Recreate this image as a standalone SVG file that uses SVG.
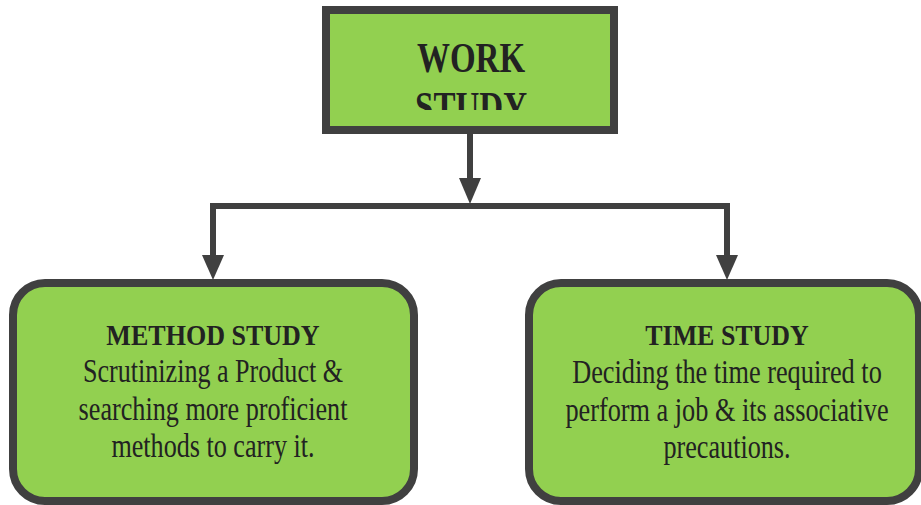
<svg xmlns="http://www.w3.org/2000/svg" width="921" height="505" viewBox="0 0 921 505">
  <style>
    .box { fill: #92d050; stroke: #404040; stroke-width: 8; }
    .wire { fill: none; stroke: #404040; stroke-width: 6; }
    .head { fill: #404040; }
    .title { font-family: "Liberation Serif", "Times New Roman", serif; font-weight: bold; fill: #222; text-anchor: middle; }
    .body { font-family: "Liberation Serif", "Times New Roman", serif; fill: #222; text-anchor: middle; font-size: 33px; }
  </style>
  <defs>
    <clipPath id="topClip">
      <rect x="330" y="14" width="280" height="96"/>
    </clipPath>
  </defs>
  <rect width="921" height="505" fill="#ffffff"/>

  <g id="connectors">
    <line class="wire" x1="470" y1="133" x2="470" y2="178"/>
    <path class="head" d="M459 178 L481 178 L470 204 Z"/>
    <path class="wire" d="M213 256 L213 206 L727 206 L727 256"/>
    <path class="head" d="M202 255 L224 255 L213 280 Z"/>
    <path class="head" d="M716 255 L738 255 L727 280 Z"/>
  </g>

  <g id="work-study">
    <rect class="box" x="326" y="10" width="288" height="120"/>
    <g clip-path="url(#topClip)">
      <g transform="translate(471 0) scale(0.8 1)">
        <text class="title" x="0" y="72" font-size="42" textLength="135" lengthAdjust="spacingAndGlyphs">WORK</text>
        <text class="title" x="0" y="121" font-size="42" textLength="140" lengthAdjust="spacingAndGlyphs">STUDY</text>
      </g>
    </g>
  </g>

  <!-- narrow serif lettering: text is set at full size and squeezed horizontally -->
  <g id="method-study">
    <rect class="box" x="13" y="283" width="401" height="218" rx="32"/>
    <g transform="translate(213 0) scale(0.86 1)">
      <text class="title" x="0" y="345" font-size="30" textLength="248" lengthAdjust="spacingAndGlyphs">METHOD STUDY</text>
    </g>
    <g transform="translate(213 0) scale(0.8 1)">
      <text class="body" x="0" y="382" textLength="325" lengthAdjust="spacingAndGlyphs">Scrutinizing a Product &amp;</text>
      <text class="body" x="0" y="420" textLength="336" lengthAdjust="spacingAndGlyphs">searching more proficient</text>
      <text class="body" x="0" y="457" textLength="254" lengthAdjust="spacingAndGlyphs">methods to carry it.</text>
    </g>
  </g>

  <g id="time-study">
    <rect class="box" x="529" y="283" width="390" height="218" rx="32"/>
    <g transform="translate(727 0) scale(0.86 1)">
      <text class="title" x="0" y="345" font-size="30" textLength="190" lengthAdjust="spacingAndGlyphs">TIME STUDY</text>
    </g>
    <g transform="translate(727 0) scale(0.8 1)">
      <text class="body" x="0" y="383" textLength="387" lengthAdjust="spacingAndGlyphs">Deciding the time required to</text>
      <text class="body" x="0" y="421" textLength="404" lengthAdjust="spacingAndGlyphs">perform a job &amp; its associative</text>
      <text class="body" x="0" y="458" textLength="159" lengthAdjust="spacingAndGlyphs">precautions.</text>
    </g>
  </g>
</svg>
